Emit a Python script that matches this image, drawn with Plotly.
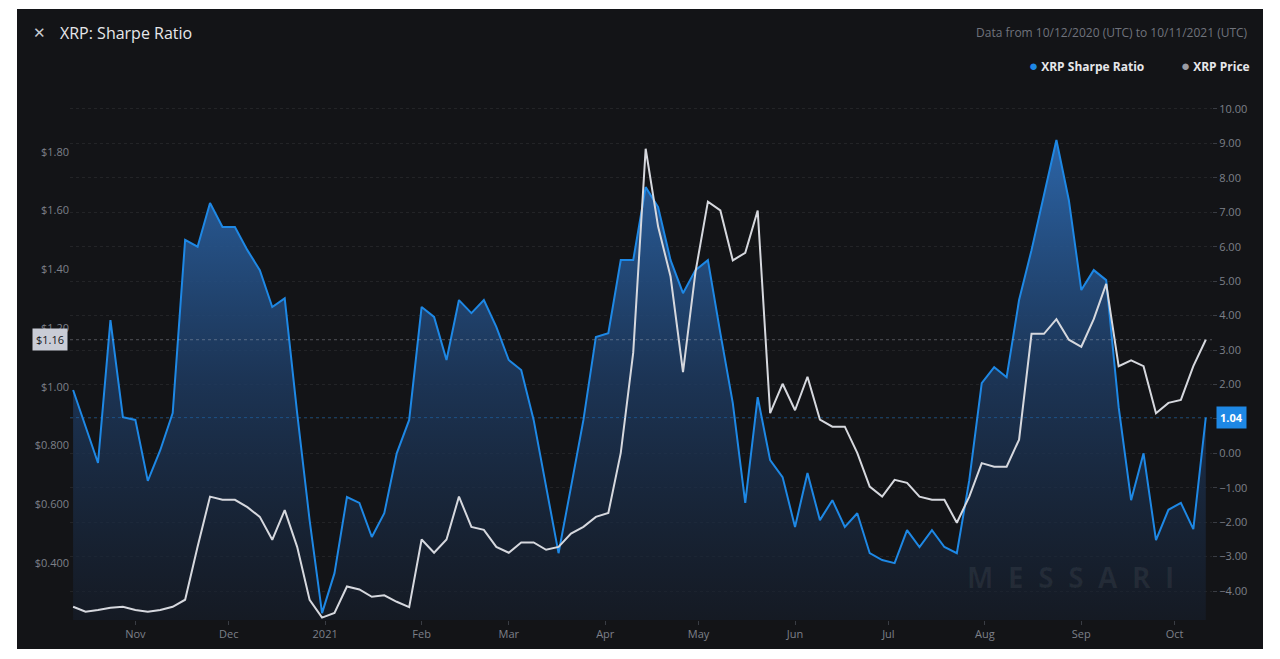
import pandas as pd
import plotly.graph_objects as go

dates = pd.date_range("2020-10-12", periods=92, freq="4D")

sharpe = [1.84, 0.75, -0.28, 3.87, 1.05, 0.97, -0.8, 0.09, 1.17, 6.2,
          6.0, 7.27, 6.57, 6.57, 5.9, 5.32, 4.25, 4.5, 1.17, -1.94,
          -4.64, -3.48, -1.27, -1.44, -2.43, -1.74, 0.0, 0.97, 4.25, 3.96,
          2.71, 4.45, 4.07, 4.45, 3.67, 2.71, 2.42, 0.97, -0.98, -2.9,
          -0.98, 0.97, 3.38, 3.49, 5.61, 5.61, 7.73, 7.15, 5.61, 4.65,
          5.32, 5.61, 3.49, 1.46, -1.44, 1.63, -0.2, -0.69, -2.14, -0.57,
          -1.94, -1.36, -2.14, -1.74, -2.9, -3.1, -3.19, -2.23, -2.72, -2.23,
          -2.72, -2.9, -0.78, 2.04, 2.5, 2.21, 4.45, 5.9, 7.5, 9.1,
          7.35, 4.74, 5.32, 5.03, 1.34, -1.36, 0.0, -2.52, -1.64, -1.44,
          -2.2, 1.04]

price = [0.251, 0.234, 0.24, 0.248, 0.251, 0.24, 0.234, 0.24, 0.251, 0.275,
         0.455, 0.626, 0.615, 0.615, 0.59, 0.557, 0.479, 0.58, 0.455, 0.275,
         0.214, 0.23, 0.32, 0.31, 0.285, 0.29, 0.268, 0.25, 0.48, 0.435,
         0.48, 0.626, 0.523, 0.513, 0.455, 0.435, 0.47, 0.47, 0.445, 0.455,
         0.5, 0.523, 0.557, 0.57, 0.775, 1.116, 1.81, 1.545, 1.375, 1.05,
         1.39, 1.63, 1.6, 1.43, 1.456, 1.6, 0.91, 1.01, 0.92, 1.034,
         0.888, 0.864, 0.864, 0.775, 0.66, 0.626, 0.683, 0.673, 0.626, 0.615,
         0.615, 0.537, 0.626, 0.74, 0.728, 0.728, 0.82, 1.18, 1.18, 1.23,
         1.16, 1.136, 1.23, 1.35, 1.07, 1.09, 1.07, 0.91, 0.945, 0.955,
         1.07, 1.16]

month_ticks = ["2020-11-01", "2020-12-01", "2021-01-01", "2021-02-01", "2021-03-01",
               "2021-04-01", "2021-05-01", "2021-06-01", "2021-07-01", "2021-08-01",
               "2021-09-01", "2021-10-01"]
month_labels = ["Nov", "Dec", "2021", "Feb", "Mar", "Apr", "May", "Jun", "Jul", "Aug", "Sep", "Oct"]

price_ticks = [0.4, 0.6, 0.8, 1.0, 1.2, 1.4, 1.6, 1.8]
price_labels = ["$0.400", "$0.600", "$0.800", "$1.00", "$1.20", "$1.40", "$1.60", "$1.80"]
sharpe_ticks = list(range(-4, 11))

S_MIN, S_MAX = -4.84, 10.55
P_MIN, P_MAX = 0.206, 2.01

BLUE = "#1e88e5"
FONT = "Open Sans"
OFF = 8  # page offset of the figure in the browser
W, H = 1280, 659
L, R, T, B = 70 - OFF, W - 1212 + OFF, 90 - OFF, H - 620 + OFF
PW, PH = W - L - R, H - T - B


def px(x):
    return (x - OFF - L) / PW


def py(y):
    return (H - B - (y - OFF)) / PH


fig = go.Figure()
fig.add_trace(go.Scatter(x=dates, y=[S_MIN] * len(dates), mode="lines",
                         line=dict(width=0), hoverinfo="skip", yaxis="y"))
fig.add_trace(go.Scatter(
    x=dates, y=sharpe, mode="lines", name="XRP Sharpe Ratio", yaxis="y",
    line=dict(color=BLUE, width=2), fill="tonexty",
    fillgradient=dict(type="vertical",
                      colorscale=[[0, "rgba(22,30,44,0.6)"], [0.5, "rgba(30,60,100,0.8)"],
                                  [1, "rgba(45,105,175,0.95)"]])))
fig.add_trace(go.Scatter(x=dates, y=price, mode="lines", name="XRP Price", yaxis="y2",
                         line=dict(color="#d6d8de", width=2)))

fig.update_layout(
    width=W, height=H, showlegend=False,
    paper_bgcolor="white", plot_bgcolor="#131417",
    margin=dict(l=L, r=R, t=T, b=B),
    font=dict(family=FONT, color="#7d8089", size=11),
    xaxis=dict(range=["2020-10-11", "2021-10-13"], tickvals=month_ticks, ticktext=month_labels,
               showgrid=False, zeroline=False, ticks="outside", tickcolor="#3a3d44", ticklen=4,
               showline=False),
    yaxis=dict(range=[S_MIN, S_MAX], side="right", tickvals=sharpe_ticks, tickformat=".2f",
               gridcolor="rgba(255,255,255,0.07)", griddash="dot", zeroline=False,
               ticks="outside", tickcolor="#3a3d44", ticklen=4),
    yaxis2=dict(range=[P_MIN, P_MAX], side="left", overlaying="y", tickvals=price_ticks,
                ticktext=price_labels, showgrid=False, zeroline=False),
)

fig.add_shape(type="rect", xref="paper", yref="paper", x0=px(18), x1=px(1262), y0=py(648),
              y1=py(10), fillcolor="#131417", line=dict(color="#131417"), layer="below")

fig.add_shape(type="line", xref="paper", yref="y2", x0=0, x1=1, y0=price[-1], y1=price[-1],
              line=dict(color="rgba(200,200,210,0.35)", width=1, dash="dot"))
fig.add_shape(type="line", xref="paper", yref="y", x0=0, x1=1, y0=sharpe[-1], y1=sharpe[-1],
              line=dict(color="rgba(30,136,229,0.35)", width=1, dash="dot"))

ann = [
    ("XRP: Sharpe Ratio", 58, 33, "left", dict(size=16, color="#e6e7ea")),
    ("✕", 31, 32, "left", dict(size=15, color="#c8cad0")),
    ("Data from 10/12/2020 (UTC) to 10/11/2021 (UTC)", 1250, 33, "right",
     dict(size=12, color="#70737c")),
    ("<span style='color:%s;font-size:15px'>●</span> <b>XRP Sharpe Ratio</b>" % BLUE, 1146, 65,
     "right", dict(size=12, color="#e6e7ea")),
    ("<span style='color:#9a9ca4;font-size:15px'>●</span> <b>XRP Price</b>", 1252, 65, "right",
     dict(size=12, color="#e6e7ea")),
    ("<b>M  E  S  S  A  R  I</b>", 1070, 577, "center", dict(size=28, color="rgba(255,255,255,0.06)")),
]
for text, x, y, xa, f in ann:
    fig.add_annotation(xref="paper", yref="paper", x=px(x), y=py(y), xanchor=xa, yanchor="middle",
                       showarrow=False, text=text, font=f)

fig.add_annotation(xref="paper", yref="y2", x=0, y=price[-1], xanchor="right", yanchor="middle",
                   text="$%.2f" % price[-1], showarrow=False, bgcolor="#c9ccd6",
                   font=dict(color="#131417", size=11), borderpad=3, xshift=-2)
fig.add_annotation(xref="paper", yref="y", x=1, y=sharpe[-1], xanchor="left", yanchor="middle",
                   text="<b>%.2f</b>" % sharpe[-1], showarrow=False, bgcolor=BLUE,
                   font=dict(color="white", size=11), borderpad=3, xshift=4)

fig.write_html("out.html")
